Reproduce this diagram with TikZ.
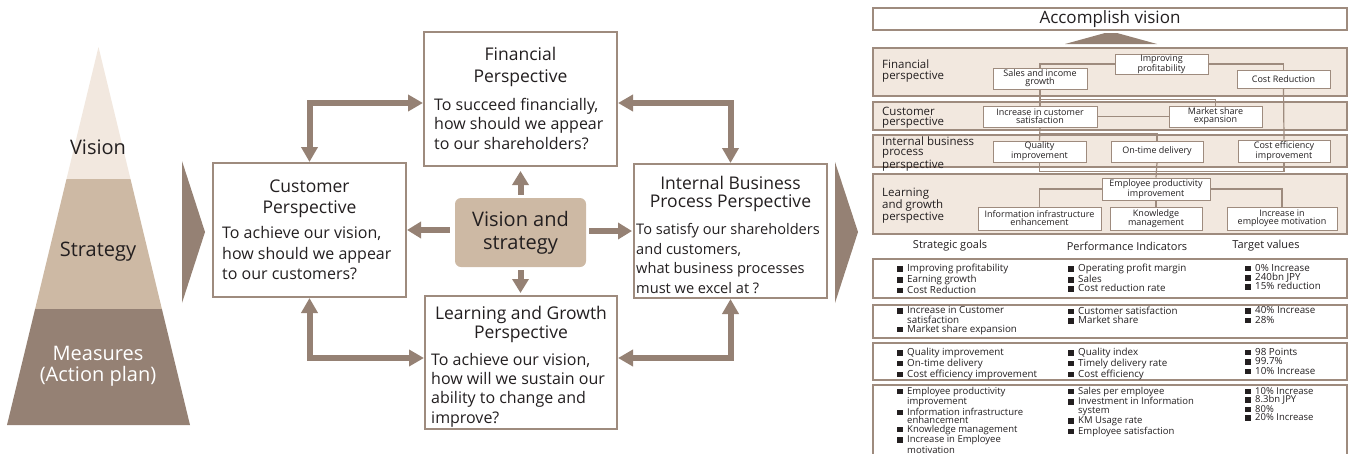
\documentclass[tikz,border=0pt]{standalone}
\usepackage{fontspec}
\setmainfont{Open Sans}
\usetikzlibrary{positioning, arrows.meta}

\definecolor{bsclight}{HTML}{F2E8DF}
\definecolor{bsctan}{HTML}{CDB9A4}
\definecolor{bscbrown}{HTML}{958174}
\definecolor{bscline}{HTML}{9E8B7E}
\definecolor{bsctext}{HTML}{231F20}

\tikzstyle{persp} = [rectangle, draw = bscline, line width = 2pt, fill = white,
  inner sep = 0]
\tikzstyle{ptitle} = [align = center, inner sep = 0, text = bsctext]
\tikzstyle{pbody} = [align = left, inner sep = 0, text = bsctext]
\tikzstyle{vbox} = [
  rectangle, rounded corners = 6pt, fill = bsctan, inner sep = 0,
  align = center, text = bsctext, font = \fontsize{20}{23}\selectfont
]
\tikzstyle{pyrlabel} = [align = center, inner sep = 0, text = bsctext,
  font = \fontsize{20}{21}\selectfont]
\tikzstyle{bigarrow} = [draw = bscbrown, line width = 6pt,
  -{Triangle[width = 16pt, length = 14pt]}]
\tikzstyle{dblarrow} = [draw = bscbrown, line width = 6pt,
  {Triangle[width = 16pt, length = 15pt]}-{Triangle[width = 16pt, length = 15pt]}]
\tikzstyle{band} = [rectangle, draw = bscline, line width = 1.2pt,
  fill = bsclight, minimum width = 474, inner sep = 0]
\tikzstyle{bandlabel} = [anchor = north west, align = left, inner sep = 0,
  text = bsctext, font = \fontsize{11.5}{10.5}\selectfont]
\tikzstyle{sbox} = [
  rectangle, draw = bscline, line width = 1pt, fill = white,
  inner sep = 0, align = center, text = bsctext,
  font = \fontsize{9}{8}\selectfont
]
\tikzstyle{conn} = [draw = bscline, line width = 1.2pt]
\tikzstyle{header} = [inner sep = 0, text = bsctext,
  font = \fontsize{11}{12}\selectfont]
\tikzstyle{tabrow} = [rectangle, draw = bscline, line width = 1.2pt,
  minimum width = 474, inner sep = 0]
\tikzstyle{cell} = [anchor = north west, align = left, inner sep = 0,
  text = bsctext, font = \fontsize{9.8}{9.3}\selectfont]

\newcommand{\sqbul}{\rule{5.5pt}{5.5pt}\hspace{4.5pt}}
\newcommand{\sqcont}{\hspace*{10pt}}

\begin{document}
\begin{tikzpicture}[x = 1pt, y = -1pt, node distance = 0]
  \useasboundingbox (0,0) rectangle (1351,453);

  % pyramid
  \fill[bsclight] (98.5,47) -- (130.5,179) -- (66.5,179) -- cycle;
  \fill[bsctan] (66.5,179) -- (130.5,179) -- (161.9,309) -- (35.1,309) -- cycle;
  \fill[bscbrown] (35.1,309) -- (161.9,309) -- (190,425) -- (7,425) -- cycle;
  \node[pyrlabel] (pyr-vision) at (98,147) {Vision};
  \node[pyrlabel] (pyr-strategy) at (98,252) {Strategy};
  \node[pyrlabel, text = white] (pyr-measures) at (98,366.5)
    {Measures\\(Action plan)};

  % chevrons
  \fill[bscbrown] (182,161) -- (205,232) -- (182,303) -- cycle;
  \fill[bscbrown] (835,162) -- (858,232) -- (835,303) -- cycle;

  % financial
  \node[persp, minimum width = 193, minimum height = 134] (fin) at (520.5,99) {};
  \node[ptitle, font = \fontsize{17.5}{22}\selectfont,
    below = 15.8pt of fin.north] (fin-title) {Financial\\Perspective};
  \node[pbody, font = \fontsize{16}{19.5}\selectfont,
    below right = 66.6pt and 11pt of fin.north west] (fin-body)
    {To succeed financially,\\how should we appear\\to our shareholders?};
  % customer
  \node[persp, minimum width = 193, minimum height = 134] (cust) at (309.5,230) {};
  \node[ptitle, font = \fontsize{17.5}{21}\selectfont,
    below = 17.8pt of cust.north] (cust-title) {Customer\\Perspective};
  \node[pbody, font = \fontsize{16}{20.5}\selectfont,
    below right = 64.6pt and 10pt of cust.north west] (cust-body)
    {To achieve our vision,\\how should we appear\\to our customers?};
  % internal
  \node[persp, minimum width = 193, minimum height = 134] (int) at (730.5,231) {};
  \node[ptitle, font = \fontsize{17.5}{18}\selectfont,
    below = 12.8pt of int.north] (int-title)
    {Internal Business\\Process Perspective};
  \node[pbody, font = \fontsize{14.6}{19.7}\selectfont,
    below right = 60.2pt and 3pt of int.north west] (int-body)
    {To satisfy our shareholders\\and customers,\\what business processes\\must we excel at ?};
  % learning
  \node[persp, minimum width = 192, minimum height = 133] (learn) at (521,362.5) {};
  \node[ptitle, font = \fontsize{17.5}{19}\selectfont,
    below = 10.8pt of learn.north] (learn-title)
    {Learning and Growth\\Perspective};
  \node[pbody, font = \fontsize{16}{19.3}\selectfont,
    below right = 58pt and 7pt of learn.north west] (learn-body)
    {To achieve our vision,\\how will we sustain our\\ability to change and\\improve?};
  % center
  \node[vbox, minimum width = 131, minimum height = 69] (vis) at (520.5,232.5)
    {Vision and\\strategy};

  \draw[bigarrow, shorten <= 3pt, shorten >= 4pt] (vis.north) -- (fin.south);
  \draw[bigarrow, shorten <= 3pt, shorten >= 2pt] (vis.south) --
    (vis.south |- learn.north);
  \draw[bigarrow] ([xshift = -5pt]vis.west |- cust.east) -- (cust.east);
  \draw[bigarrow, shorten >= 1pt] ([xshift = 3pt]vis.east |- int.west) --
    (int.west);
  \draw[dblarrow] ([yshift = -4pt]fin.west) -| (cust.north);
  \draw[dblarrow] ([yshift = -4pt]fin.east) -| (int.north);
  \draw[dblarrow] (cust.south) |- ([yshift = 4.5pt]learn.west);
  \draw[dblarrow] (int.south) |- ([yshift = 4.5pt]learn.east);

  % accomplish vision
  \node[rectangle, draw = bscline, line width = 1.2pt, fill = white,
    minimum width = 474, minimum height = 22, inner sep = 0, text = bsctext,
    font = \fontsize{17}{18}\selectfont] (acc) at (1110,19) {Accomplish vision};
  \fill[bscbrown] (1065,44) -- (1105,33) -- (1117,33) -- (1157,44) -- cycle;

  % perspective bands
  \node[band, minimum height = 48] (band-fin) at (1110,72) {};
  \node[band, minimum height = 28] (band-cust) at (1110,116) {};
  \node[band, minimum height = 32] (band-int) at (1110,151) {};
  \node[band, minimum height = 60] (band-learn) at (1110,204) {};
  \node[bandlabel] (lbl-fin) at (882,60) {Financial\\perspective};
  \node[bandlabel] (lbl-cust) at (882,106.5) {Customer\\perspective};
  \node[bandlabel] (lbl-int) at (882,136.5) {Internal business\\process\\perspective};
  \node[bandlabel] (lbl-learn) at (882,187.5) {Learning\\and growth\\perspective};

  % goal boxes
  \node[sbox, minimum width = 93, minimum height = 20] (impr) at (1161.5,64)
    {Improving\\profitability};
  \node[sbox, minimum width = 94, minimum height = 21] (sales) at (1040,78.5)
    {Sales and income\\growth};
  \node[sbox, minimum width = 93, minimum height = 18] (cost) at (1283.5,79)
    {Cost Reduction};
  \node[sbox, minimum width = 114, minimum height = 21] (incr) at (1040,116.5)
    {Increase in customer\\satisfaction};
  \node[sbox, minimum width = 93, minimum height = 21] (mkt) at (1215.5,116.5)
    {Market share\\expansion};
  \node[sbox, minimum width = 93, minimum height = 21] (qual) at (1039.5,151.5)
    {Quality\\improvement};
  \node[sbox, minimum width = 92, minimum height = 21] (ontime) at (1157,151.5)
    {On-time delivery};
  \node[sbox, minimum width = 92, minimum height = 22] (ceff) at (1284,151)
    {Cost efficiency\\improvement};
  \node[sbox, minimum width = 108, minimum height = 22] (emp) at (1156,189)
    {Employee productivity\\improvement};
  \node[sbox, minimum width = 123, minimum height = 23] (info) at (1039.5,218.5)
    {Information infrastructure\\enhancement};
  \node[sbox, minimum width = 92, minimum height = 23] (know) at (1156,218.5)
    {Knowledge\\management};
  \node[sbox, minimum width = 110, minimum height = 23] (mot) at (1282,218.5)
    {Increase in\\employee motivation};

  \draw[conn] (impr.west) -| (sales.north);
  \draw[conn] (impr.east) -| (cost.north);
  \draw[conn] (sales.south) -- (incr.north);
  \draw[conn] (sales.south) ++(0,10) -| (mkt.north);
  \draw[conn] (incr) -- (mkt);
  \draw[conn] (cost.south) -- (ceff.north);
  \draw[conn] (incr.south) -- (qual.north);
  \draw[conn] (incr.south) ++(0,6) -| (ontime.north);
  \draw[conn] (qual.south) -- ++(0,9) -| (ceff.south);
  \draw[conn] (ontime.south) -- (emp.north);
  \draw[conn] (emp.west) -| (info.north);
  \draw[conn] (emp.east) -| (mot.north);
  \draw[conn] (emp.south) -- (know.north);

  % table
  \node[header] (hdr-goals) at (950,246) {Strategic goals};
  \node[header] (hdr-kpi) at (1127,246) {Performance Indicators};
  \node[header] (hdr-target) at (1266,246) {Target values};
  \node[tabrow, minimum height = 39] (row-1) at (1110,278.5) {};
  \node[tabrow, minimum height = 33] (row-2) at (1110,321.5) {};
  \node[tabrow, minimum height = 37] (row-3) at (1110,361.5) {};
  \draw[conn] (873,460) |- (1347,385) -- (1347,460);

  \node[cell] (r1c1) at (897,264) {\sqbul Improving profitability\\\sqbul Earning growth\\\sqbul Cost Reduction};
  \node[cell] (r1c2) at (1068,264) {\sqbul Operating profit margin\\\sqbul Sales\\\sqbul Cost reduction rate};
  \node[cell] (r1c3) at (1245,264) {\sqbul 0\% Increase\\\sqbul 240bn JPY\\\sqbul 15\% reduction};
  \node[cell] (r2c1) at (897,306.5) {\sqbul Increase in Customer\\\sqcont satisfaction\\\sqbul Market share expansion};
  \node[cell] (r2c2) at (1068,306.5) {\sqbul Customer satisfaction\\\sqbul Market share};
  \node[cell] (r2c3) at (1245,306.5) {\sqbul 40\% Increase\\\sqbul 28\%};
  \node[cell] (r3c1) at (897,348) {\sqbul Quality improvement\\\sqbul On-time delivery\\\sqbul Cost efficiency improvement};
  \node[cell] (r3c2) at (1068,348) {\sqbul Quality index\\\sqbul Timely delivery rate\\\sqbul Cost efficiency};
  \node[cell] (r3c3) at (1245,348) {\sqbul 98 Points\\\sqbul 99.7\%\\\sqbul 10\% Increase};
  \node[cell, font = \fontsize{9.5}{8.6}\selectfont] (r4c1) at (897,387) {\sqbul Employee productivity\\\sqcont improvement\\\sqbul Information infrastructure\\\sqcont enhancement\\\sqbul Knowledge management\\\sqbul Increase in Employee\\\sqcont motivation};
  \node[cell, font = \fontsize{9.5}{8.6}\selectfont] (r4c2) at (1068,387) {\sqbul Sales per employee\\\sqbul Investment in Information\\\sqcont system\\\sqbul KM Usage rate\\\sqbul Employee satisfaction};
  \node[cell, font = \fontsize{9.5}{8.6}\selectfont] (r4c3) at (1245,387) {\sqbul 10\% Increase\\\sqbul 8.3bn JPY\\\sqbul 80\%\\\sqbul 20\% Increase};
\end{tikzpicture}
\end{document}
